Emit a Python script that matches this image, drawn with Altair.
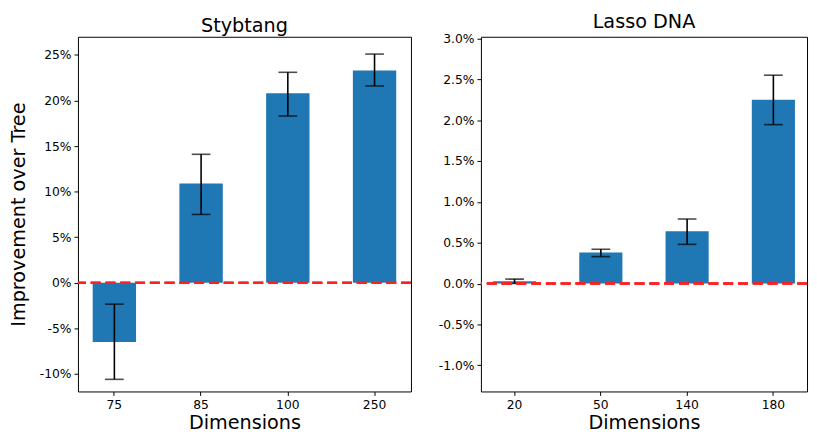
import altair as alt
import pandas as pd

# Left panel: Stybtang
left_dims = ["75", "85", "100", "250"]
left_vals = [-6.5, 10.9, 20.8, 23.3]
left_lo = [-10.6, 7.5, 18.3, 21.6]
left_hi = [-2.35, 14.1, 23.1, 25.1]
left_ticks = [-10, -5, 0, 5, 10, 15, 20, 25]

# Right panel: Lasso DNA
right_dims = ["20", "50", "140", "180"]
right_vals = [0.03, 0.38, 0.64, 2.25]
right_lo = [0.0, 0.33, 0.48, 1.945]
right_hi = [0.055, 0.42, 0.79, 2.55]
right_ticks = [-1.0, -0.5, 0.0, 0.5, 1.0, 1.5, 2.0, 2.5, 3.0]

FONT = "DejaVu Sans"
BLUE = "#1f77b4"


def panel(dims, vals, lo, hi, title, domain, ticks, label_expr, y_title, width, pad_outer):
    df = pd.DataFrame({"dim": dims, "val": vals, "lo": lo, "hi": hi})
    base = alt.Chart(df)
    x = alt.X(
        "dim:N",
        sort=dims,
        scale=alt.Scale(paddingInner=0.5, paddingOuter=pad_outer),
        axis=alt.Axis(
            title="Dimensions", labelAngle=0, labelFontSize=12.5, titleFontSize=19.5,
            titleFontWeight="normal", labelColor="black", titleColor="black",
            tickColor="black", tickSize=4, domain=False, labelPadding=3, titlePadding=3,
            labelFont=FONT, titleFont=FONT,
        ),
    )
    yaxis = alt.Axis(
        title=y_title, values=ticks, labelExpr=label_expr, grid=False,
        labelFontSize=12.5, titleFontSize=19.5, titleFontWeight="normal",
        labelColor="black", titleColor="black", tickColor="black", tickSize=4,
        domain=False, labelPadding=3, titlePadding=11, labelFont=FONT, titleFont=FONT,
    )
    yscale = alt.Scale(domain=domain, nice=False, zero=False)
    bars = base.mark_bar(color=BLUE).encode(
        x=x, y=alt.Y("val:Q", scale=yscale, axis=yaxis), y2=alt.datum(0)
    )
    err = base.mark_rule(color="black", strokeWidth=1.6).encode(
        x=x, y=alt.Y("lo:Q", scale=yscale, axis=yaxis), y2="hi:Q"
    )
    cap_lo = base.mark_tick(color="black", thickness=1.6, size=19).encode(
        x=x, y=alt.Y("lo:Q", scale=yscale, axis=yaxis)
    )
    cap_hi = base.mark_tick(color="black", thickness=1.6, size=19).encode(
        x=x, y=alt.Y("hi:Q", scale=yscale, axis=yaxis)
    )
    zero = base.mark_rule(color="#ff2020", strokeDash=[10, 5], strokeWidth=2).encode(
        y=alt.datum(0)
    )
    return alt.layer(bars, err, cap_lo, cap_hi, zero).properties(
        width=width,
        height=360,
        title=alt.Title(title, fontSize=19.5, fontWeight="normal", font=FONT, color="black", offset=0),
    )


left = panel(
    left_dims, left_vals, left_lo, left_hi, "Stybtang", [-11.93, 27.0], left_ticks,
    "replace(format(datum.value, 'd'), '\u2212', '-') + '%'", "Improvement over Tree", 338, 0.17,
)
right = panel(
    right_dims, right_vals, right_lo, right_hi, "Lasso DNA", [-1.32, 3.02], right_ticks,
    "replace(format(datum.value, '.1f'), '\u2212', '-') + '%'", None, 331, 0.14,
)

chart = alt.hconcat(left, right, spacing=25).configure(
    background="white", padding=0
).configure_view(stroke="black", strokeWidth=1)

chart.save("out.html", embed_options={"renderer": "svg", "actions": False})
